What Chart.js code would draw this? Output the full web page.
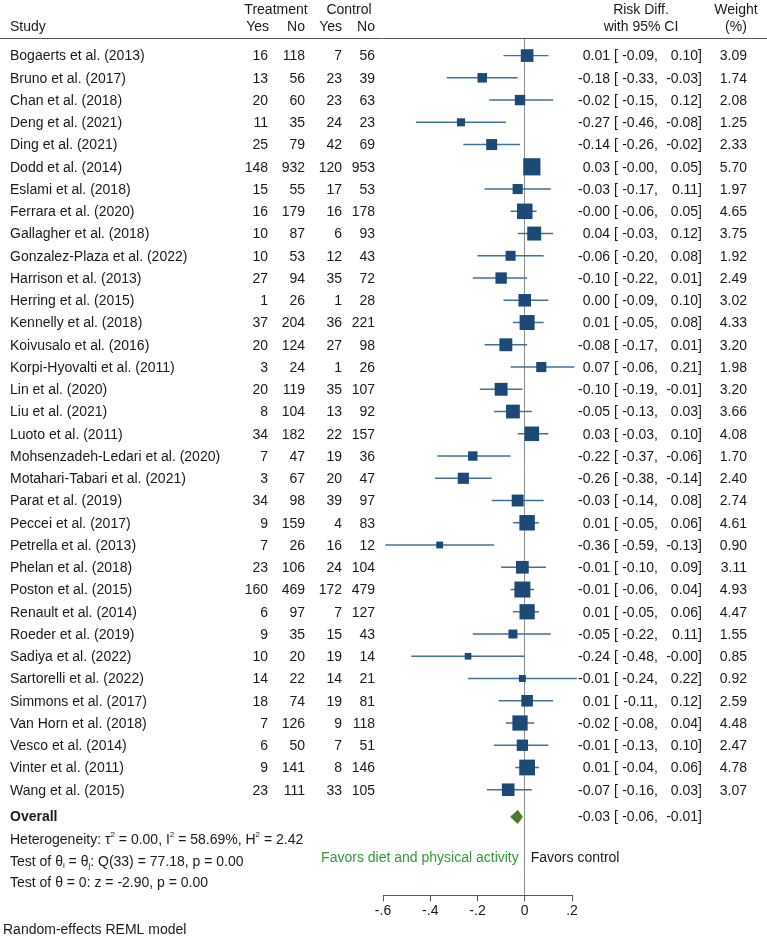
<!DOCTYPE html>
<html lang="en">
<head>
<meta charset="UTF-8">
<title>Forest plot - risk difference</title>
<script src="https://cdn.jsdelivr.net/npm/chart.js"></script>
<style>
  body { margin: 0; background: #fff; }
  canvas { display: block; }
</style>
</head>
<body>
<canvas id="forest" width="767" height="941"></canvas>
<script>
const studies = [
  'Bogaerts et al. (2013)', 'Bruno et al. (2017)', 'Chan et al. (2018)', 'Deng et al. (2021)',
  'Ding et al. (2021)', 'Dodd et al. (2014)', 'Eslami et al. (2018)', 'Ferrara et al. (2020)',
  'Gallagher et al. (2018)', 'Gonzalez-Plaza et al. (2022)', 'Harrison et al. (2013)', 'Herring et al. (2015)',
  'Kennelly et al. (2018)', 'Koivusalo et al. (2016)', 'Korpi-Hyovalti et al. (2011)', 'Lin et al. (2020)',
  'Liu et al. (2021)', 'Luoto et al. (2011)', 'Mohsenzadeh-Ledari et al. (2020)', 'Motahari-Tabari et al. (2021)',
  'Parat et al. (2019)', 'Peccei et al. (2017)', 'Petrella et al. (2013)', 'Phelan et al. (2018)',
  'Poston et al. (2015)', 'Renault et al. (2014)', 'Roeder et al. (2019)', 'Sadiya et al. (2022)',
  'Sartorelli et al. (2022)', 'Simmons et al. (2017)', 'Van Horn et al. (2018)', 'Vesco et al. (2014)',
  'Vinter et al. (2011)', 'Wang et al. (2015)'
];
const treatYes = [16, 13, 20, 11, 25, 148, 15, 16, 10, 10, 27, 1, 37, 20, 3, 20, 8, 34, 7, 3, 34, 9, 7, 23, 160, 6, 9, 10, 14, 18, 7, 6, 9, 23];
const treatNo  = [118, 56, 60, 35, 79, 932, 55, 179, 87, 53, 94, 26, 204, 124, 24, 119, 104, 182, 47, 67, 98, 159, 26, 106, 469, 97, 35, 20, 22, 74, 126, 50, 141, 111];
const ctrlYes  = [7, 23, 23, 24, 42, 120, 17, 16, 6, 12, 35, 1, 36, 27, 1, 35, 13, 22, 19, 20, 39, 4, 16, 24, 172, 7, 15, 19, 14, 19, 9, 7, 8, 33];
const ctrlNo   = [56, 39, 63, 23, 69, 953, 53, 178, 93, 43, 72, 28, 221, 98, 26, 107, 92, 157, 36, 47, 97, 83, 12, 104, 479, 127, 43, 14, 21, 81, 118, 51, 146, 105];
const riskDiff = [0.01, -0.18, -0.02, -0.27, -0.14, 0.03, -0.03, -0, 0.04, -0.06, -0.10, 0.00, 0.01, -0.08, 0.07, -0.10, -0.05, 0.03, -0.22, -0.26, -0.03, 0.01, -0.36, -0.01, -0.01, 0.01, -0.05, -0.24, -0.01, 0.01, -0.02, -0.01, 0.01, -0.07];
const ciLow    = [-0.09, -0.33, -0.15, -0.46, -0.26, -0, -0.17, -0.06, -0.03, -0.20, -0.22, -0.09, -0.05, -0.17, -0.06, -0.19, -0.13, -0.03, -0.37, -0.38, -0.14, -0.05, -0.59, -0.10, -0.06, -0.05, -0.22, -0.48, -0.24, -0.11, -0.08, -0.13, -0.04, -0.16];
const ciHigh   = [0.10, -0.03, 0.12, -0.08, -0.02, 0.05, 0.11, 0.05, 0.12, 0.08, 0.01, 0.10, 0.08, 0.01, 0.21, -0.01, 0.03, 0.10, -0.06, -0.14, 0.08, 0.06, -0.13, 0.09, 0.04, 0.06, 0.11, -0, 0.22, 0.12, 0.04, 0.10, 0.06, 0.03];
const weights  = [3.09, 1.74, 2.08, 1.25, 2.33, 5.70, 1.97, 4.65, 3.75, 1.92, 2.49, 3.02, 4.33, 3.20, 1.98, 3.20, 3.66, 4.08, 1.70, 2.40, 2.74, 4.61, 0.90, 3.11, 4.93, 4.47, 1.55, 0.85, 0.92, 2.59, 4.48, 2.47, 4.78, 3.07];
const overallEst = -0.03;
const overallLow = -0.06;
const overallHigh = -0.01;
const xTicks = [-0.6, -0.4, -0.2, 0, 0.2];
const xTickLabels = ['-.6', '-.4', '-.2', '0', '.2'];

// row positions (in row units) for the lines under the study list
const ROW_OVERALL = 34.22;
const ROW_HET = 35.27;
const ROW_QTEST = 36.24;
const ROW_ZTEST = 37.22;
const ROW_FAVORS = 36.06;
const ROW_NOTE = 39.3;

const FONT = '"Liberation Sans", Arial, Helvetica, sans-serif';
const blue = '#1b4a77';
const ciBlue = '#4271a0';
const green = '#4b7b2d';

function fmt(v) {
  const neg = v < 0 || Object.is(v, -0);
  return (neg ? '-' : '') + Math.abs(v).toFixed(2);
}

const ciSegments = [];
studies.forEach((s, i) => {
  ciSegments.push({x: ciLow[i], y: i}, {x: ciHigh[i], y: i}, {x: null, y: null});
});
const markers = riskDiff.map((v, i) => ({x: v, y: i}));
const dh = 0.29;
const diamond = [
  {x: overallLow, y: ROW_OVERALL},
  {x: overallEst, y: ROW_OVERALL - dh},
  {x: overallHigh, y: ROW_OVERALL},
  {x: overallEst, y: ROW_OVERALL + dh},
  {x: overallLow, y: ROW_OVERALL}
];

function drawParts(ctx, x, y, parts) {
  // parts: [text, 'n'|'sup'|'sub']
  let cx = x;
  parts.forEach(([t, kind]) => {
    if (kind === 'n') {
      ctx.font = '14px ' + FONT;
      ctx.fillText(t, cx, y);
    } else {
      ctx.font = '8px ' + FONT;
      ctx.fillText(t, cx, y + (kind === 'sup' ? -5 : 4));
    }
    cx += ctx.measureText(t).width;
  });
}

function drawCI(ctx, y, est, lo, hi) {
  ctx.textAlign = 'right';
  ctx.fillText(fmt(est), 610, y);
  ctx.textAlign = 'left';
  ctx.fillText('[', 614, y);
  ctx.textAlign = 'right';
  ctx.fillText(fmt(lo) + ',', 658, y);
  ctx.fillText(fmt(hi) + ']', 702, y);
}

const tablePlugin = {
  id: 'forestTable',
  afterDraw(chart) {
    const ctx = chart.ctx;
    const ys = chart.scales.y;
    const xs = chart.scales.x;
    const area = chart.chartArea;
    const rowY = v => ys.getPixelForValue(v);

    ctx.save();
    // header rule
    ctx.strokeStyle = '#555';
    ctx.lineWidth = 1;
    ctx.beginPath();
    ctx.moveTo(0, area.top + 0.5);
    ctx.lineTo(chart.width, area.top + 0.5);
    ctx.stroke();

    ctx.fillStyle = '#1a1a1a';
    ctx.textBaseline = 'middle';
    ctx.font = '14px ' + FONT;

    // headers
    ctx.textAlign = 'left';
    ctx.fillText('Study', 10, 27);
    ctx.textAlign = 'center';
    ctx.fillText('Treatment', 276, 10);
    ctx.fillText('Control', 349, 10);
    ctx.fillText('Risk Diff.', 641, 10);
    ctx.fillText('with 95% CI', 641, 27);
    ctx.fillText('Weight', 736, 10);
    ctx.fillText('(%)', 736, 27);
    ctx.textAlign = 'right';
    ctx.fillText('Yes', 269, 27);
    ctx.fillText('No', 305, 27);
    ctx.fillText('Yes', 342, 27);
    ctx.fillText('No', 375, 27);

    // study rows
    studies.forEach((name, i) => {
      const y = rowY(i) + 1;
      ctx.textAlign = 'left';
      ctx.fillText(name, 10, y);
      ctx.textAlign = 'right';
      ctx.fillText(treatYes[i], 268, y);
      ctx.fillText(treatNo[i], 305, y);
      ctx.fillText(ctrlYes[i], 342, y);
      ctx.fillText(ctrlNo[i], 375, y);
      drawCI(ctx, y, riskDiff[i], ciLow[i], ciHigh[i]);
      ctx.textAlign = 'right';
      ctx.fillText(weights[i].toFixed(2), 747, y);
    });

    // overall
    const yo = rowY(ROW_OVERALL);
    ctx.textAlign = 'left';
    ctx.font = 'bold 14px ' + FONT;
    ctx.fillText('Overall', 10, yo);
    ctx.font = '14px ' + FONT;
    drawCI(ctx, yo, overallEst, overallLow, overallHigh);

    ctx.textAlign = 'left';
    drawParts(ctx, 10, rowY(ROW_HET), [
      ['Heterogeneity: \u03c4', 'n'], ['2', 'sup'], [' = 0.00, I', 'n'], ['2', 'sup'],
      [' = 58.69%, H', 'n'], ['2', 'sup'], [' = 2.42', 'n']
    ]);
    drawParts(ctx, 10, rowY(ROW_QTEST), [
      ['Test of \u03b8', 'n'], ['i', 'sub'], [' = \u03b8', 'n'], ['j', 'sub'],
      [': Q(33) = 77.18, p = 0.00', 'n']
    ]);
    drawParts(ctx, 10, rowY(ROW_ZTEST), [['Test of \u03b8 = 0: z = -2.90, p = 0.00', 'n']]);

    // favours labels around the null line
    const x0 = xs.getPixelForValue(0);
    const yf = rowY(ROW_FAVORS);
    ctx.font = '14px ' + FONT;
    ctx.textAlign = 'right';
    ctx.fillStyle = '#2f9a36';
    ctx.fillText('Favors diet and physical activity', x0 - 6, yf);
    ctx.textAlign = 'left';
    ctx.fillStyle = '#1a1a1a';
    ctx.fillText('Favors control', x0 + 6, yf);

    ctx.fillText('Random-effects REML model', 3, rowY(ROW_NOTE));
    ctx.restore();
  }
};

new Chart(document.getElementById('forest'), {
  type: 'scatter',
  data: {
    datasets: [
      {
        label: 'Risk difference',
        data: markers,
        order: 0,
        pointStyle: 'rect',
        pointRadius: c => 7.2 * Math.sqrt(weights[c.dataIndex] || 1) / Math.SQRT2,
        pointHoverRadius: c => 7.2 * Math.sqrt(weights[c.dataIndex] || 1) / Math.SQRT2,
        backgroundColor: blue,
        borderWidth: 0,
        clip: false
      },
      {
        label: 'Overall',
        data: diamond,
        order: 1,
        showLine: true,
        fill: 'shape',
        tension: 0,
        pointRadius: 0,
        borderColor: green,
        backgroundColor: green,
        borderWidth: 1,
        clip: false
      },
      {
        label: '95% CI',
        data: ciSegments,
        order: 2,
        showLine: true,
        spanGaps: false,
        pointRadius: 0,
        borderColor: ciBlue,
        borderWidth: 1.4,
        clip: false
      }
    ]
  },
  options: {
    responsive: false,
    animation: false,
    events: [],
    layout: { padding: { left: 383, right: 195, top: 38, bottom: 19 } },
    plugins: { legend: { display: false }, tooltip: { enabled: false } },
    scales: {
      x: {
        type: 'linear',
        min: -0.6,
        max: 0.2,
        afterBuildTicks: axis => { axis.ticks = xTicks.map(v => ({ value: v })); },
        ticks: {
          color: '#1a1a1a',
          font: { family: FONT, size: 14 },
          padding: 2,
          maxRotation: 0,
          autoSkip: false,
          callback: (v, i) => xTickLabels[i]
        },
        grid: {
          color: c => (c.tick && c.tick.value === 0) ? '#8f8f8f' : 'rgba(0,0,0,0)',
          tickColor: '#555',
          tickLength: 6,
          lineWidth: 1
        },
        border: { display: true, color: '#555', width: 1 }
      },
      y: {
        type: 'linear',
        display: false,
        reverse: true,
        min: -0.79,
        max: 37.74
      }
    }
  },
  plugins: [tablePlugin]
});
</script>
</body>
</html>
